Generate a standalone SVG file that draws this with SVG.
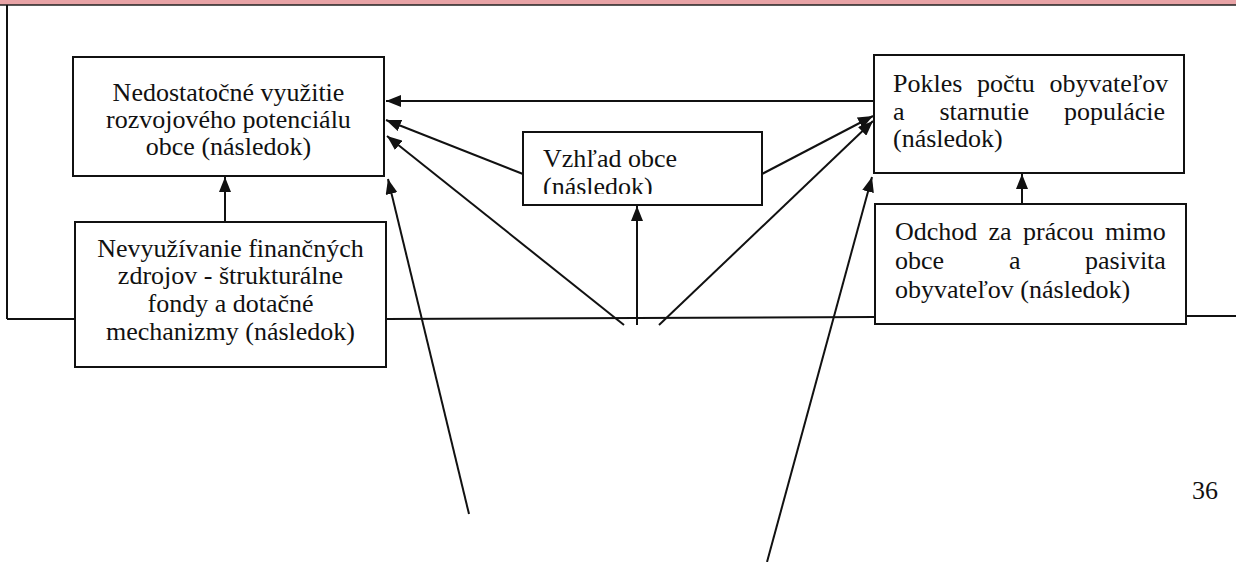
<svg xmlns="http://www.w3.org/2000/svg" width="1236" height="562" viewBox="0 0 1236 562">
<style>
.box{fill:#fff;stroke:#111;stroke-width:2}
.t{font-family:'Liberation Serif','Times New Roman',serif;font-size:26px;fill:#111}
.c{text-anchor:middle}
.e{text-anchor:end}
.ln{stroke:#111;stroke-width:2;fill:none}
.ar{stroke:#111;stroke-width:2;fill:none;marker-end:url(#ah)}
</style>
<defs>
<marker id="ah" markerUnits="userSpaceOnUse" markerWidth="16" markerHeight="12" refX="15" refY="6" orient="auto">
<path d="M0,0 L15,6 L0,12 z" fill="#111"/>
</marker>
<clipPath id="clipD"><rect x="523" y="132" width="239" height="62"/></clipPath>
</defs>
<rect x="0" y="0" width="1236" height="5" fill="#e8a3a6"/>
<line x1="0" y1="5" x2="1236" y2="5" stroke="#222" stroke-width="1.5"/>
<g id="frame">
<line class="ln" x1="7" y1="5" x2="7" y2="319"/>
<line class="ln" x1="7" y1="319" x2="75" y2="319"/>
<line class="ln" x1="386" y1="319" x2="875" y2="317"/>
<line class="ln" x1="1186" y1="316" x2="1236" y2="316"/>
</g>
<g id="connectors">
<line class="ar" x1="874" y1="101" x2="386" y2="101"/>
<line class="ar" x1="523" y1="174" x2="386" y2="120"/>
<line class="ar" x1="624" y1="325" x2="387" y2="136"/>
<line class="ar" x1="469" y1="514" x2="388" y2="179"/>
<line class="ar" x1="225" y1="222" x2="225" y2="177"/>
<line class="ar" x1="637" y1="325" x2="637" y2="206"/>
<line class="ar" x1="762" y1="174" x2="873" y2="116"/>
<line class="ar" x1="659" y1="325" x2="873" y2="121"/>
<line class="ar" x1="767" y1="562" x2="872" y2="177"/>
<line class="ar" x1="1022" y1="204" x2="1022" y2="174"/>
</g>
<g id="nodeA">
<rect class="box" x="73" y="57" width="311" height="119"/>
<text class="t c"><tspan x="228.5" y="101">Nedostatočné využitie</tspan><tspan x="228.5" y="128">rozvojového potenciálu</tspan><tspan x="228.5" y="155">obce  (následok)</tspan></text>
</g>
<g id="nodeB">
<rect class="box" x="75" y="222" width="311" height="145"/>
<text class="t c"><tspan x="230.5" y="257">Nevyužívanie finančných</tspan><tspan x="230.5" y="284">zdrojov - štrukturálne</tspan><tspan x="230.5" y="312">fondy a dotačné</tspan><tspan x="230.5" y="340">mechanizmy (následok)</tspan></text>
</g>
<g id="nodeC">
<rect class="box" x="874" y="55" width="310" height="118"/>
<text class="t"><tspan x="893" y="92">Pokles</tspan><tspan x="977" y="92">počtu</tspan><tspan x="1049.5" y="92">obyvateľov</tspan><tspan x="893" y="120">a</tspan><tspan x="939.5" y="120">starnutie</tspan><tspan x="1064" y="120">populácie</tspan><tspan x="893" y="147">(následok)</tspan></text>
</g>
<g id="nodeD">
<rect class="box" x="523" y="132" width="239" height="73"/>
<g clip-path="url(#clipD)">
<text class="t"><tspan x="543" y="167">Vzhľad obce</tspan><tspan x="543" y="195">(následok)</tspan></text>
</g>
</g>
<g id="nodeE">
<rect class="box" x="875" y="204" width="311" height="120"/>
<text class="t"><tspan x="895" y="240">Odchod</tspan><tspan x="988.5" y="240">za</tspan><tspan x="1023" y="240">prácou</tspan><tspan x="1105" y="240">mimo</tspan><tspan x="895" y="269">obce</tspan><tspan x="1009" y="269">a</tspan><tspan x="1085" y="269">pasivita</tspan><tspan x="895" y="298">obyvateľov (následok)</tspan></text>
</g>
<text class="t" x="1192" y="499" style="font-size:26px">36</text>
</svg>
